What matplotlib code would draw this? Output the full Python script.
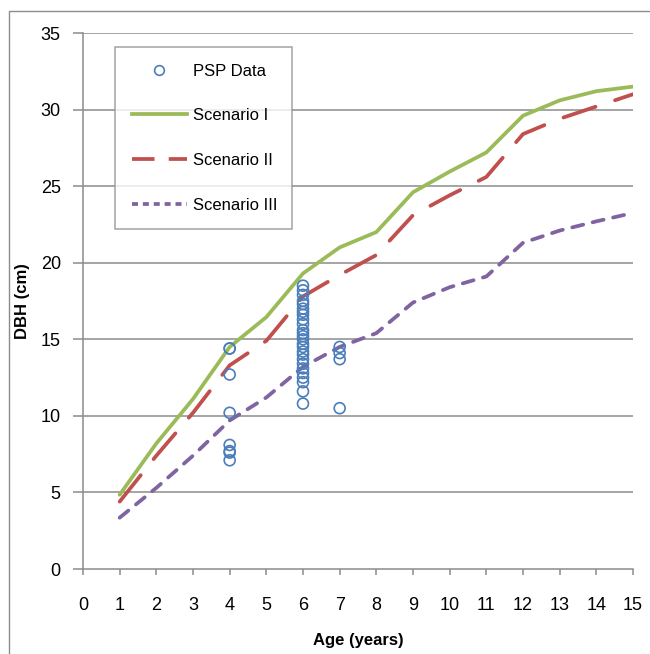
import matplotlib
matplotlib.use("Agg")
import matplotlib.pyplot as plt
from matplotlib.patches import Rectangle
from matplotlib.lines import Line2D

plt.rcParams['font.family'] = ['Liberation Sans Narrow', 'Liberation Sans', 'DejaVu Sans']

# Data
ages = [1, 2, 3, 4, 5, 6, 7, 8, 9, 10, 11, 12, 13, 14, 15]
scenario_1 = [4.85, 8.2, 11.1, 14.5, 16.45, 19.3, 21.0, 22.0, 24.6, 25.95, 27.2, 29.6, 30.6, 31.2, 31.5]
scenario_2 = [4.4, 7.4, 10.2, 13.3, 14.9, 17.8, 19.2, 20.5, 23.1, 24.4, 25.6, 28.4, 29.4, 30.2, 31.0]
scenario_3 = [3.35, 5.3, 7.4, 9.7, 11.2, 13.2, 14.5, 15.4, 17.4, 18.4, 19.1, 21.3, 22.1, 22.7, 23.25]

psp_age_4 = [14.4, 14.4, 12.7, 10.2, 8.1, 7.7, 7.6, 7.1]
psp_age_6 = [18.5, 18.2, 17.9, 17.5, 17.3, 17.0, 16.8, 16.6, 16.3, 16.0, 15.6, 15.4,
             15.2, 15.0, 14.7, 14.5, 14.2, 14.0, 13.7, 13.4, 13.1, 12.8, 12.5, 12.2,
             11.6, 10.8]
psp_age_7 = [14.5, 14.1, 13.7, 10.5]

psp_x = [4] * len(psp_age_4) + [6] * len(psp_age_6) + [7] * len(psp_age_7)
psp_y = psp_age_4 + psp_age_6 + psp_age_7

x_ticks = list(range(0, 16))
y_ticks = [0, 5, 10, 15, 20, 25, 30, 35]

W, H = 650, 654
fig = plt.figure(figsize=(W / 100, H / 100), dpi=100)
ax = fig.add_axes([83 / W, 1 - 569 / H, (633 - 83) / W, (569 - 33) / H])

grid_c = '#8c8c8c'
for y in y_ticks[1:]:
    ax.axhline(y, color=grid_c, lw=1.1, zorder=1)

ax.plot(ages, scenario_1, color='#9bbb59', lw=2.7, solid_capstyle='round', zorder=3,
        label='Scenario I')
ax.plot(ages, scenario_2, color='#c0504d', lw=2.7, dashes=(9, 5.5), dash_capstyle='round',
        zorder=3, label='Scenario II')
ax.plot(ages, scenario_3, color='#8064a2', lw=2.7, dashes=(3, 2.6), dash_capstyle='round',
        zorder=3, label='Scenario III')
ax.scatter(psp_x, psp_y, s=62, facecolors='none', edgecolors='#4a7ebb', linewidths=1.2,
           zorder=4, label='PSP Data')

ax.set_xlim(0, 15)
ax.set_ylim(0, 35)
ax.set_xticks(x_ticks)
ax.set_yticks(y_ticks)

for side in ['top', 'right']:
    ax.spines[side].set_visible(False)
for side in ['left', 'bottom']:
    ax.spines[side].set_color(grid_c)
    ax.spines[side].set_linewidth(1.1)

ax.tick_params(axis='x', direction='out', length=4, width=1.1, color=grid_c, pad=16,
               labelsize=13)
ax.tick_params(axis='y', direction='out', length=7, width=1.1, color=grid_c, pad=9,
               labelsize=13)

ax.set_xlabel('Age (years)', fontsize=12, fontweight='bold', labelpad=14)
ax.set_ylabel('DBH (cm)', fontsize=12, fontweight='bold', labelpad=8)

handles = [
    Line2D([], [], ls='none', marker='o', markersize=7, markerfacecolor='none',
           markeredgecolor='#4a7ebb', markeredgewidth=1.2),
    Line2D([], [], color='#9bbb59', lw=2.7),
    Line2D([], [], color='#c0504d', lw=2.7, dashes=(6.0, 3.8), dash_capstyle='butt'),
    Line2D([], [], color='#8064a2', lw=2.7, dashes=(1.6, 1.3), dash_capstyle='butt'),
]
labels = ['PSP Data', 'Scenario I', 'Scenario II', 'Scenario III']
leg = ax.legend(handles, labels, loc='upper left',
                bbox_to_anchor=(115 / W, 1 - 227 / H, (292 - 115) / W, (227 - 47) / H),
                bbox_transform=fig.transFigure, mode='expand',
                fontsize=12, frameon=True, fancybox=False, handlelength=3.3,
                handletextpad=0.36, labelspacing=1.78, borderpad=1.0, borderaxespad=0)
leg.get_frame().set_edgecolor(grid_c)
leg.get_frame().set_linewidth(1.1)

# chart area border (cropped at right and bottom)
fig.patches.append(Rectangle((9 / W, -0.05), 1.1, 1 - 11 / H + 0.05,
                             transform=fig.transFigure, fill=False,
                             edgecolor='#8c8c8c', lw=1.0))

fig.savefig('out.png', dpi=100)
